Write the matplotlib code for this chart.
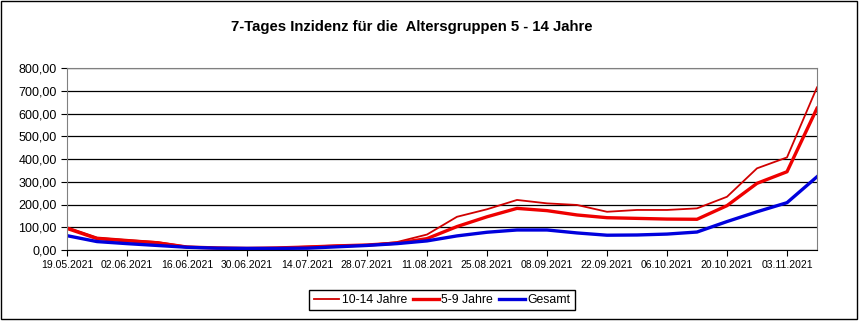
import pandas as pd
import matplotlib.pyplot as plt
from matplotlib.patches import Rectangle

# Wochenwerte ab 19.05.2021
datum = pd.date_range("2021-05-19", periods=26, freq="7D")
jahre_10_14 = [100, 55, 45, 35, 15, 10, 8, 10, 15, 20, 22, 35, 68,
               146, 179, 220, 205, 198, 168, 176, 176, 183, 234, 359, 407, 715]
jahre_5_9 = [95, 50, 40, 32, 13, 9, 7, 9, 13, 18, 22, 30, 50,
             103, 146, 183, 173, 154, 142, 139, 136, 135, 195, 293, 344, 623]
gesamt = [63, 37, 28, 20, 12, 8, 7, 7, 8, 14, 20, 28, 40,
          62, 78, 88, 88, 75, 65, 66, 70, 79, 125, 168, 208, 322]

plt.rcParams['font.family'] = ['Liberation Sans', 'DejaVu Sans']

fig = plt.figure(figsize=(8.63, 3.22), dpi=100)
# Rahmen um das Diagramm
fig.patches.append(Rectangle((1 / 863, 3 / 322), 856 / 863, 318 / 322,
                             transform=fig.transFigure, fill=False,
                             edgecolor='black', linewidth=1))

ax = fig.add_axes([67 / 863, 72 / 322, 750 / 863, 182 / 322])
ax.plot(datum, jahre_10_14, color='#d00000', linewidth=1.3, label='10-14 Jahre')
ax.plot(datum, jahre_5_9, color='#ee0000', linewidth=2.4, label='5-9 Jahre')
ax.plot(datum, gesamt, color='#0000dd', linewidth=2.4, label='Gesamt')

ax.set_ylim(0, 800)
ax.set_xlim(datum[0], datum[-1])
ax.set_yticks(range(0, 801, 100))
ax.set_yticklabels([f"{v:.2f}".replace('.', ',') for v in range(0, 801, 100)], fontsize=9)
ticks = pd.date_range("2021-05-19", "2021-11-03", freq="14D")
ax.set_xticks(ticks)
ax.set_xticklabels([d.strftime("%d.%m.%Y") for d in ticks], fontsize=7.5)
ax.tick_params(axis='both', length=4, width=0.8, direction='out')
ax.grid(axis='y', color='black', linewidth=0.9)
ax.set_axisbelow(True)
for s in ['top', 'right', 'left']:
    ax.spines[s].set_color('#808080')
ax.spines['bottom'].set_color('black')

fig.text(412 / 863, 1 - 27 / 322, "7-Tages Inzidenz für die  Altersgruppen 5 - 14 Jahre",
         ha='center', va='center', fontsize=10.7, fontweight='bold')

fig.legend(loc='center', bbox_to_anchor=(442 / 863, 1 - 300 / 322), ncol=3,
           fontsize=8.8, frameon=True, fancybox=False, edgecolor='black',
           handlelength=2.1, handletextpad=0.2, columnspacing=0.5,
           borderpad=0.35, framealpha=1)

fig.savefig("out.png", dpi=100)
